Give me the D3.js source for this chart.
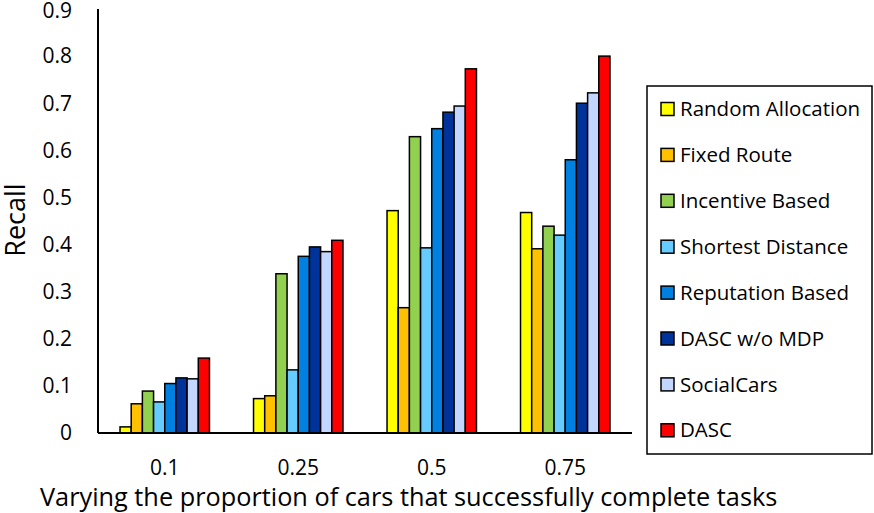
<!DOCTYPE html>
<html>
<head>
<meta charset="utf-8">
<script src="https://cdn.jsdelivr.net/npm/d3@7"></script>
<style>
  body { margin: 0; background: #fff; }
  text { font-family: "Open Sans", sans-serif; fill: #000; }
</style>
</head>
<body>
<svg id="chart" width="874" height="513"></svg>
<script>
// chart data
const groups = ['0.1', '0.25', '0.5', '0.75'];
const series = ['Random Allocation', 'Fixed Route', 'Incentive Based', 'Shortest Distance',
  'Reputation Based', 'DASC w/o MDP', 'SocialCars', 'DASC'];
const colors = ['#FFFF00', '#FFC000', '#92D050', '#66CCFF', '#0080E0', '#003399', '#C2D6FF', '#FF0000'];

// one array per series, values for 0.1, 0.25, 0.5, 0.75
const randomAllocation = [0.013, 0.073, 0.472, 0.468];
const fixedRoute       = [0.062, 0.079, 0.266, 0.391];
const incentiveBased   = [0.089, 0.338, 0.629, 0.439];
const shortestDistance = [0.066, 0.134, 0.393, 0.420];
const reputationBased  = [0.105, 0.375, 0.646, 0.580];
const dascNoMdp        = [0.117, 0.395, 0.681, 0.700];
const socialCars       = [0.115, 0.385, 0.694, 0.722];
const dasc             = [0.159, 0.409, 0.773, 0.800];

const yTicks = [0, 0.1, 0.2, 0.3, 0.4, 0.5, 0.6, 0.7, 0.8, 0.9];

const values = [randomAllocation, fixedRoute, incentiveBased, shortestDistance,
  reputationBased, dascNoMdp, socialCars, dasc];

const svg = d3.select('#chart');

const plot = { left: 98, right: 632, top: 9, bottom: 433 };

const x0 = d3.scaleBand()
  .domain(groups)
  .range([plot.left, plot.right])
  .paddingInner(0.33)
  .paddingOuter(0.165);

const x1 = d3.scaleBand()
  .domain(series)
  .range([0, x0.bandwidth()]);

const y = d3.scaleLinear()
  .domain([0, 0.9])
  .range([plot.bottom, plot.top]);

const color = d3.scaleOrdinal().domain(series).range(colors);

// bars
const barData = [];
groups.forEach((g, gi) => {
  series.forEach((s, si) => {
    barData.push({ group: g, name: s, value: values[si][gi] });
  });
});

svg.append('g')
  .selectAll('rect')
  .data(barData)
  .enter()
  .append('rect')
  .attr('x', (d) => x0(d.group) + x1(d.name))
  .attr('y', (d) => y(d.value))
  .attr('width', x1.bandwidth())
  .attr('height', (d) => y(0) - y(d.value))
  .attr('fill', (d) => color(d.name))
  .attr('stroke', '#000')
  .attr('stroke-width', 1.5);

// axes lines
svg.append('line')
  .attr('x1', plot.left).attr('x2', plot.left)
  .attr('y1', plot.top).attr('y2', plot.bottom)
  .attr('stroke', '#000').attr('stroke-width', 2);

svg.append('line')
  .attr('x1', plot.left).attr('x2', plot.right)
  .attr('y1', plot.bottom).attr('y2', plot.bottom)
  .attr('stroke', '#000').attr('stroke-width', 2);

// y tick labels
svg.append('g')
  .selectAll('text')
  .data(yTicks)
  .enter()
  .append('text')
  .attr('x', 72)
  .attr('y', (d) => y(d))
  .attr('dy', (d) => d === 0.9 ? '0.42em' : '0.35em')
  .attr('text-anchor', 'end')
  .attr('font-size', 21)
  .text((d) => d);

// x tick labels
svg.append('g')
  .selectAll('text')
  .data(groups)
  .enter()
  .append('text')
  .attr('x', (d) => x0(d) + x0.bandwidth() / 2)
  .attr('y', 468)
  .attr('dy', '0.35em')
  .attr('text-anchor', 'middle')
  .attr('font-size', 21)
  .text((d) => d);

// axis titles
svg.append('text')
  .attr('transform', 'translate(25, 220) rotate(-90)')
  .attr('text-anchor', 'middle')
  .attr('font-size', 27)
  .text('Recall');

svg.append('text')
  .attr('x', 40)
  .attr('y', 506)
  .attr('font-size', 25.3)
  .text('Varying the proportion of cars that successfully complete tasks');

// legend
const legend = svg.append('g');

legend.append('rect')
  .attr('x', 647).attr('y', 86)
  .attr('width', 225).attr('height', 368)
  .attr('fill', '#fff')
  .attr('stroke', '#000')
  .attr('stroke-width', 1.5);

const items = legend.selectAll('.item')
  .data(series)
  .enter()
  .append('g')
  .attr('class', 'item')
  .attr('transform', (d, i) => `translate(661, ${109 + i * 45.9})`);

items.append('rect')
  .attr('x', 0).attr('y', -6.5)
  .attr('width', 13).attr('height', 13)
  .attr('fill', (d) => color(d))
  .attr('stroke', '#000')
  .attr('stroke-width', 1.5);

items.append('text')
  .attr('x', 19)
  .attr('y', 0)
  .attr('dy', '0.35em')
  .attr('font-size', 20.5)
  .text((d) => d);
</script>
</body>
</html>
